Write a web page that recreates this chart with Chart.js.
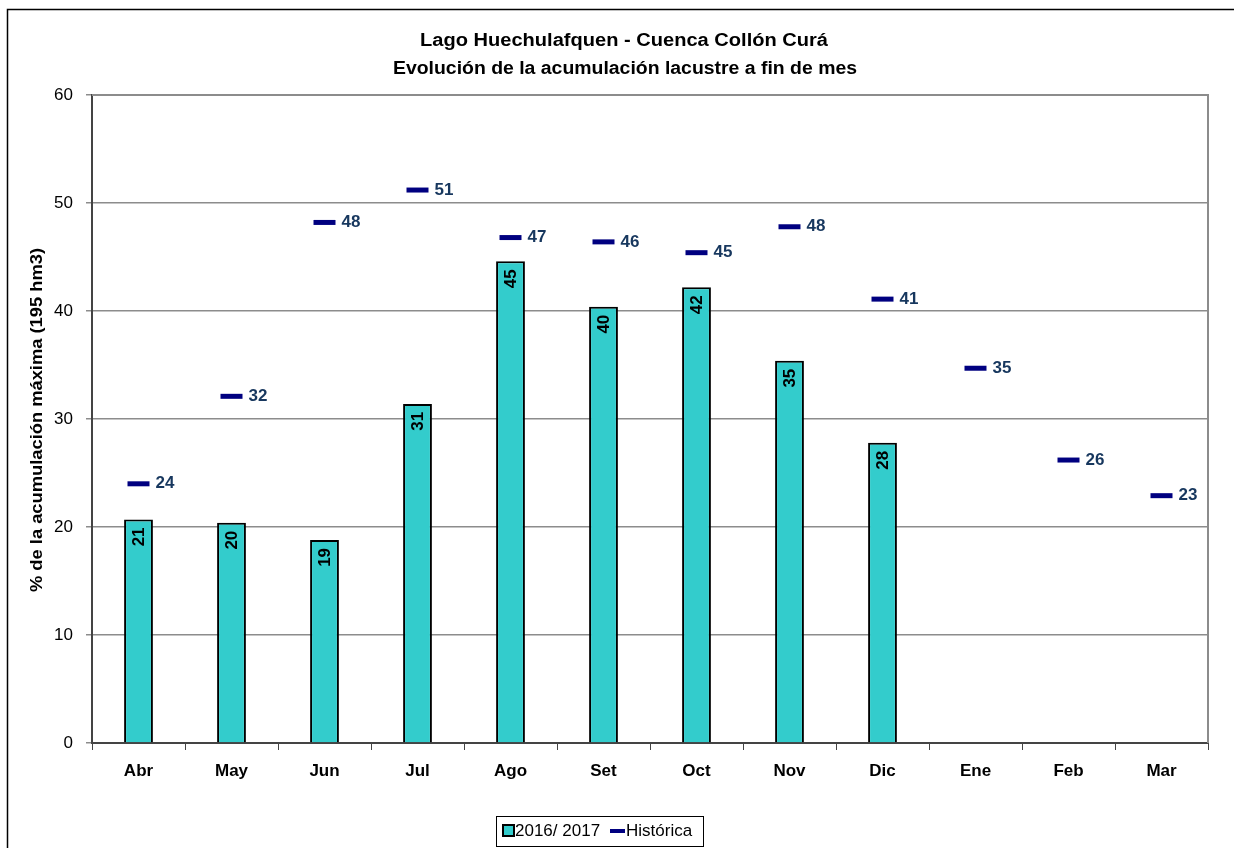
<!DOCTYPE html>
<html>
<head>
<meta charset="utf-8">
<script src="https://cdn.jsdelivr.net/npm/chart.js@4/dist/chart.umd.min.js"></script>
<style>
  html, body { margin: 0; padding: 0; background: #fff; }
  #wrap { width: 1234px; height: 848px; }
</style>
</head>
<body>
<div id="wrap"><canvas id="lagoChart" width="1234" height="848"></canvas></div>
<script>
// Chart data
const months = ["Abr", "May", "Jun", "Jul", "Ago", "Set", "Oct", "Nov", "Dic", "Ene", "Feb", "Mar"];
const season2016 = [20.7, 20.4, 18.8, 31.4, 44.6, 40.4, 42.2, 35.4, 27.8, null, null, null];
const historica = [24.0, 32.1, 48.2, 51.2, 46.8, 46.4, 45.4, 47.8, 41.1, 34.7, 26.2, 22.9];
const yTicks = [0, 10, 20, 30, 40, 50, 60];
const titleLines = ["Lago Huechulafquen - Cuenca Collón Curá", "Evolución de la acumulación lacustre a fin de mes"];
const yTitle = "% de la acumulación máxima (195 hm3)";
const seriesNames = ["2016/ 2017", "Histórica"];

const FONT = "Arial, 'Liberation Sans', sans-serif";

// draw centered text stretched to a given width (the original looks horizontally wide)
function wideText(ctx, text, x, y, width) {
    const w = ctx.measureText(text).width;
    ctx.save();
    ctx.translate(x, y);
    ctx.scale(width / w, 1);
    ctx.textAlign = "center";
    ctx.fillText(text, 0, 0);
    ctx.restore();
}

// Draws title, labels, legend and frame
const decorPlugin = {
    id: "decor",
    afterDraw(chart) {
        const ctx = chart.ctx;
        const area = chart.chartArea;
        ctx.save();

        // outer frame
        ctx.strokeStyle = "#000";
        ctx.lineWidth = 1.5;
        ctx.strokeRect(7.5, 9.5, 1300, 1000);

        // top + right border of plot area
        ctx.strokeStyle = "#8c8c8c";
        ctx.lineWidth = 2;
        ctx.beginPath();
        ctx.moveTo(area.left, area.top);
        ctx.lineTo(area.right, area.top);
        ctx.lineTo(area.right, area.bottom);
        ctx.stroke();

        // title
        ctx.fillStyle = "#000";
        ctx.font = "bold 18px " + FONT;
        ctx.textBaseline = "middle";
        wideText(ctx, titleLines[0], 624, 41, 408);
        wideText(ctx, titleLines[1], 625, 69, 464);

        // y axis title
        ctx.save();
        ctx.translate(37, 420);
        ctx.rotate(-Math.PI / 2);
        ctx.font = "bold 17px " + FONT;
        wideText(ctx, yTitle, 0, 0, 344);
        ctx.restore();

        // bar value labels (rotated, inside top of bar)
        const barMeta = chart.getDatasetMeta(0);
        ctx.font = "bold 17px " + FONT;
        ctx.fillStyle = "#000";
        barMeta.data.forEach((bar, i) => {
            const v = season2016[i];
            if (v === null) return;
            ctx.save();
            ctx.translate(bar.x + 1, bar.y + 8);
            ctx.rotate(-Math.PI / 2);
            ctx.textAlign = "right";
            ctx.textBaseline = "middle";
            ctx.fillText(Math.round(v).toString(), 0, 0);
            ctx.restore();
        });

        // historic labels
        const lineMeta = chart.getDatasetMeta(1);
        ctx.font = "bold 17px " + FONT;
        ctx.fillStyle = "#17375e";
        ctx.textAlign = "left";
        ctx.textBaseline = "middle";
        lineMeta.data.forEach((pt, i) => {
            ctx.fillText(Math.round(historica[i]).toString(), pt.x + 17, pt.y);
        });

        // legend
        ctx.strokeStyle = "#000";
        ctx.lineWidth = 1;
        ctx.fillStyle = "#fff";
        ctx.fillRect(496.5, 816.5, 207, 30);
        ctx.strokeRect(496.5, 816.5, 207, 30);
        ctx.fillStyle = "#33cccc";
        ctx.fillRect(503, 825, 11, 11);
        ctx.lineWidth = 2;
        ctx.strokeRect(503, 825, 11, 11);
        ctx.fillStyle = "#000";
        ctx.font = "17px " + FONT;
        ctx.textBaseline = "middle";
        ctx.fillText(seriesNames[0], 515, 831);
        ctx.fillStyle = "#000080";
        ctx.fillRect(610, 829, 15, 4);
        ctx.fillStyle = "#000";
        ctx.fillText(seriesNames[1], 626, 831);

        ctx.restore();
    }
};

new Chart(document.getElementById("lagoChart").getContext("2d"), {
    type: "bar",
    data: {
        labels: months,
        datasets: [{
            label: seriesNames[0],
            data: season2016,
            backgroundColor: "#33cccc",
            borderColor: "#000",
            borderWidth: 2,
            barPercentage: 0.31,
            categoryPercentage: 1.0,
            order: 2
        }, {
            type: "line",
            label: seriesNames[1],
            data: historica,
            showLine: false,
            pointStyle: "line",
            pointRadius: 11,
            pointHoverRadius: 11,
            pointBorderWidth: 5,
            pointBorderColor: "#000080",
            borderColor: "#000080",
            order: 1
        }]
    },
    options: {
        responsive: false,
        animation: false,
        layout: { padding: { left: 0, top: 95, right: 26, bottom: 0 } },
        plugins: {
            legend: { display: false },
            title: { display: false },
            tooltip: { enabled: false }
        },
        scales: {
            x: {
                offset: true,
                grid: { offset: true, drawOnChartArea: false, drawTicks: true, tickLength: 7, color: "#444" },
                border: { color: "#444", width: 2 },
                ticks: { color: "#000", font: { family: FONT, size: 17, weight: "bold" }, padding: 11 },
                afterFit(scale) { scale.height = 105; }
            },
            y: {
                min: 0,
                max: 60,
                afterBuildTicks(scale) { scale.ticks = yTicks.map(v => ({ value: v })); },
                grid: { color: "#8c8c8c", lineWidth: 1.5, drawTicks: true, tickLength: 6 },
                border: { color: "#444", width: 2 },
                ticks: { color: "#000", font: { family: FONT, size: 17 }, padding: 13 },
                afterFit(scale) { scale.width = 92; }
            }
        }
    },
    plugins: [decorPlugin]
});
</script>
</body>
</html>
